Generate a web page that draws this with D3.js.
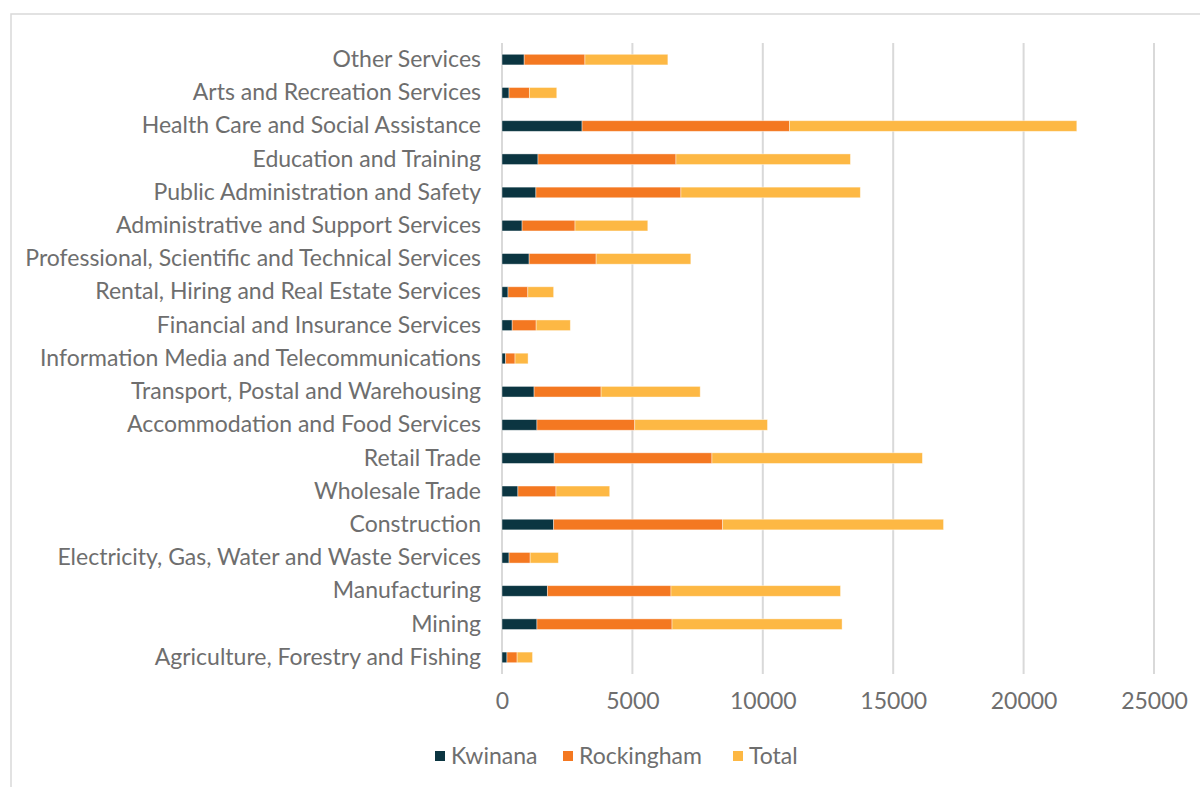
<!DOCTYPE html>
<html>
<head>
<meta charset="utf-8">
<script src="https://cdn.jsdelivr.net/npm/d3@7"></script>
<style>
  html, body { margin: 0; padding: 0; background: #fff; }
  svg { display: block; }
  text { font-family: Lato, "Open Sans", sans-serif; }
</style>
</head>
<body>
<svg id="chart" width="1200" height="787"></svg>
<script>
const categories = [
  "Other Services",
  "Arts and Recreation Services",
  "Health Care and Social Assistance",
  "Education and Training",
  "Public Administration and Safety",
  "Administrative and Support Services",
  "Professional, Scientific and Technical Services",
  "Rental, Hiring and Real Estate Services",
  "Financial and Insurance Services",
  "Information Media and Telecommunications",
  "Transport, Postal and Warehousing",
  "Accommodation and Food Services",
  "Retail Trade",
  "Wholesale Trade",
  "Construction",
  "Electricity, Gas, Water and Waste Services",
  "Manufacturing",
  "Mining",
  "Agriculture, Forestry and Fishing"
];
const kwinana    = [850, 270, 3070, 1380, 1300, 770, 1040, 230, 390, 140, 1230, 1340, 2000, 610, 1980, 270, 1740, 1340, 190];
const rockingham = [2330, 780, 7950, 5290, 5560, 2030, 2570, 760, 920, 360, 2570, 3750, 6050, 1460, 6480, 810, 4740, 5180, 390];
const total      = [3180, 1050, 11020, 6690, 6880, 2790, 3630, 990, 1310, 500, 3800, 5090, 8070, 2060, 8470, 1080, 6500, 6520, 590];
const seriesNames = ["Kwinana", "Rockingham", "Total"];
const seriesColors = ["#0b3541", "#f47821", "#fdb844"];
const tickValues = [0, 5000, 10000, 15000, 20000, 25000];

const FONT = 23;
const TXT = "#6e6e6e";
const svg = d3.select("#chart");

// outer frame
svg.append("rect")
  .attr("x", 11).attr("y", 14)
  .attr("width", 1200).attr("height", 800)
  .attr("fill", "none").attr("stroke", "#d9d9d9").attr("stroke-width", 1.5);

const x = d3.scaleLinear().domain([0, 25000]).range([502, 1154]);
const y = d3.scaleBand().domain(categories).range([43, 674]).paddingInner(0.68).paddingOuter(0.34);

// gridlines
svg.append("g").selectAll("line").data(tickValues).join("line")
  .attr("x1", d => x(d)).attr("x2", d => x(d))
  .attr("y1", 43).attr("y2", 674)
  .attr("stroke", "#d9d9d9").attr("stroke-width", 2);

const rows = categories.map((c, i) => ({ cat: c, Kwinana: kwinana[i], Rockingham: rockingham[i], Total: total[i] }));
const stacked = d3.stack().keys(seriesNames)(rows);

svg.append("g").selectAll("g").data(stacked).join("g")
  .attr("fill", (d, i) => seriesColors[i])
  .selectAll("rect").data(d => d).join("rect")
  .attr("x", d => x(d[0]))
  .attr("y", d => y(d.data.cat))
  .attr("width", d => x(d[1]) - x(d[0]))
  .attr("height", y.bandwidth())
  .attr("stroke", "#ffffff").attr("stroke-opacity", 0.5).attr("stroke-width", 0.8);

// category axis labels
const yAxis = d3.axisLeft(y).tickSize(0).tickPadding(0);
const yg = svg.append("g").attr("transform", "translate(481,0)").call(yAxis);
yg.select(".domain").remove();
yg.selectAll("text").attr("fill", TXT).attr("font-size", FONT)
  .style("font-family", "Lato, 'Open Sans', sans-serif");

// x axis labels
const xAxis = d3.axisBottom(x).tickValues(tickValues).tickFormat(d3.format("d")).tickSize(0).tickPadding(0);
const xg = svg.append("g").attr("transform", "translate(0,693)").call(xAxis);
xg.select(".domain").remove();
xg.selectAll("text").attr("fill", TXT).attr("font-size", FONT)
  .style("font-family", "Lato, 'Open Sans', sans-serif");

// legend
const legendX = [435, 563, 733];
const lg = svg.append("g").selectAll("g").data(seriesNames).join("g")
  .attr("transform", (d, i) => `translate(${legendX[i]},751)`);
lg.append("rect").attr("width", 10).attr("height", 10)
  .attr("fill", (d, i) => seriesColors[i]);
lg.append("text").attr("x", 16).attr("y", 5).attr("dy", "0.35em")
  .attr("font-size", FONT).attr("fill", TXT).text(d => d);
</script>
</body>
</html>
